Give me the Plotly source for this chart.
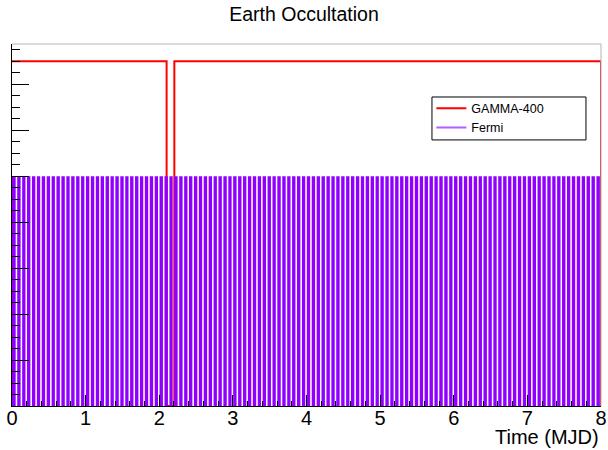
import plotly.graph_objects as go

# ---- data ----
gamma_t = [0.0, 2.10, 2.10, 2.205, 2.205, 8.0, 8.0]
gamma_v = [1.5, 1.5, 0.0, 0.0, 1.5, 1.5, 0.0]

fermi_level = 1.0
# start times (MJD offset) of Fermi Earth-occultation gaps
fermi_gap_start = [
    0.050, 0.117, 0.183, 0.250, 0.317, 0.383, 0.450, 0.517, 0.583, 0.650, 0.717, 0.783, 0.850, 0.917, 0.983,
    1.050, 1.117, 1.183, 1.250, 1.317, 1.383, 1.450, 1.517, 1.583, 1.650, 1.717, 1.783, 1.850, 1.917, 1.983,
    2.050, 2.117, 2.183, 2.250, 2.317, 2.383, 2.450, 2.517, 2.583, 2.650, 2.717, 2.783, 2.850, 2.917, 2.983,
    3.050, 3.117, 3.183, 3.250, 3.317, 3.383, 3.450, 3.517, 3.583, 3.650, 3.717, 3.783, 3.850, 3.917, 3.983,
    4.050, 4.117, 4.183, 4.250, 4.317, 4.383, 4.450, 4.517, 4.583, 4.650, 4.717, 4.783, 4.850, 4.917, 4.983,
    5.050, 5.117, 5.183, 5.250, 5.317, 5.383, 5.450, 5.517, 5.583, 5.650, 5.717, 5.783, 5.850, 5.917, 5.983,
    6.050, 6.117, 6.183, 6.250, 6.317, 6.383, 6.450, 6.517, 6.583, 6.650, 6.717, 6.783, 6.850, 6.917, 6.983,
    7.050, 7.117, 7.183, 7.250, 7.317, 7.383, 7.450, 7.517, 7.583, 7.650, 7.717, 7.783, 7.850, 7.917,
]
fermi_gap_len = 0.021

# build step series for Fermi from the gap list
fx, fy = [0.0], [fermi_level]
for s in fermi_gap_start:
    fx += [s, s, s + fermi_gap_len, s + fermi_gap_len]
    fy += [fermi_level, 0.0, 0.0, fermi_level]
fx += [7.985, 7.985]
fy += [fermi_level, 0.0]

RED = "#ff0000"
PURPLE = "#9100ff"
FONT = "Liberation Sans, Arial, sans-serif"

fig = go.Figure()
fig.add_trace(go.Scatter(x=gamma_t, y=gamma_v, mode="lines", name="GAMMA-400",
                         line=dict(color=RED, width=2), showlegend=True))
fig.add_trace(go.Scatter(x=fx, y=fy, mode="lines", name="Fermi",
                         line=dict(color=PURPLE, width=0), fill="tozeroy",
                         fillcolor=PURPLE, showlegend=False))
fig.add_trace(go.Scatter(x=[None], y=[None], mode="lines", name="Fermi",
                         line=dict(color="#b060ff", width=2), showlegend=True))

fig.update_layout(
    width=608, height=450,
    margin=dict(l=12, r=7, t=44, b=44, autoexpand=False),
    paper_bgcolor="white", plot_bgcolor="white",
    font=dict(family=FONT, color="black"),
    title=dict(text="Earth Occultation", x=0.5, xanchor="center",
               y=1 - 14 / 450, yanchor="middle", font=dict(size=19.5, family=FONT)),
    showlegend=True,
    legend=dict(x=0.712, y=0.863, xanchor="left", yanchor="top",
                bgcolor="rgba(0,0,0,0)", bordercolor="rgba(0,0,0,0)", borderwidth=0,
                font=dict(size=12.5, family=FONT), traceorder="normal",
                tracegroupgap=0, itemwidth=30),
    xaxis=dict(range=[0, 8], showgrid=False, zeroline=False, automargin=False,
               showline=True, linecolor="black", linewidth=1,
               ticks="inside", ticklen=11, tickcolor="black", tickwidth=1,
               dtick=1, tick0=0, tickfont=dict(size=20, family=FONT),
               ticklabelstandoff=-6, ticklabeloverflow="allow",
               minor=dict(ticks="inside", ticklen=5, dtick=0.2, tickcolor="black", showgrid=False)),
    yaxis=dict(range=[0, 1.575], showgrid=False, zeroline=False, automargin=False,
               showline=True, linecolor="black", linewidth=1,
               ticks="inside", ticklen=17, tickcolor="black", tickwidth=1,
               dtick=0.2, tick0=0, showticklabels=False,
               minor=dict(ticks="inside", ticklen=8, dtick=0.05, tickcolor="black", showgrid=False)),
)

# frame top/right in grey
fig.add_shape(type="line", xref="paper", yref="paper", x0=0, x1=1, y0=1, y1=1,
              line=dict(color="#b4b4b4", width=1))
fig.add_shape(type="line", xref="paper", yref="paper", x0=1, x1=1, y0=0, y1=1,
              line=dict(color="#b4b4b4", width=1))
# legend box
fig.add_shape(type="rect", xref="paper", yref="paper", x0=0.713, x1=0.9745,
              y0=0.735, y1=0.8536, line=dict(color="black", width=1),
              fillcolor="white", layer="above")

fig.add_annotation(text="Time (MJD)", xref="paper", yref="paper", x=1.0, y=-0.085,
                   xanchor="right", yanchor="middle", showarrow=False,
                   font=dict(size=20, family=FONT, color="black"))

fig.write_html("out.html", config={"displayModeBar": False},
               post_script="document.body.style.margin='0';")
